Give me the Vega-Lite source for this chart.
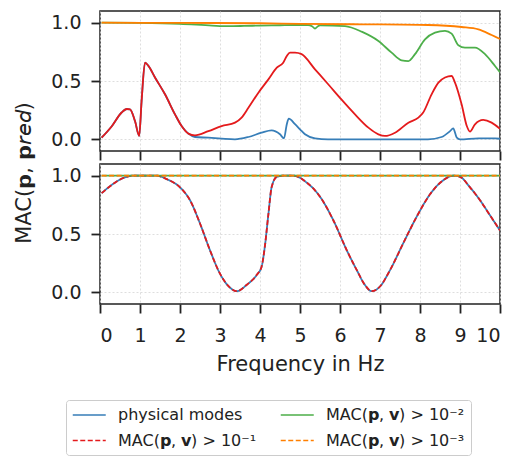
{
"$schema": "https://vega.github.io/schema/vega-lite/v6.json",
"padding": {"left": 14, "top": 10, "right": 5, "bottom": 5},
"background": "white",
"config": {
  "font": "DejaVu Sans",
  "view": {"stroke": "#222222", "strokeWidth": 1.5},
  "concat": {"spacing": 1},
  "axis": {"domain": false, "tickColor": "#222222", "tickWidth": 1.8, "tickSize": 9, "gridColor": "#d5d5d5", "gridDash": [2, 2], "gridWidth": 0.8, "labelColor": "#222222", "labelFontSize": 19, "titleFontSize": 21, "titleColor": "#222222", "titleFontWeight": "normal"},
  "legend": {"labelFontSize": 16, "labelColor": "#222222", "symbolStrokeWidth": 1.5, "symbolType": "M-1,0H3", "symbolSize": 272.25, "labelOffset": 28, "rowPadding": 8.5, "columnPadding": 20, "padding": 6, "strokeColor": "#cccccc", "cornerRadius": 3}
},
"title": {"text": "MAC(𝗽, 𝗽𝘳𝘦𝘥)", "orient": "left", "anchor": "middle", "frame": "group", "dx": -162, "fontSize": 21, "fontWeight": "normal", "color": "#222222", "offset": 15},
"data": {"values": [
{"p":"A","s":"physical modes","f":0.04,"v":0.014},
{"p":"A","s":"physical modes","f":0.29,"v":0.11},
{"p":"A","s":"physical modes","f":0.54,"v":0.23},
{"p":"A","s":"physical modes","f":0.67,"v":0.26},
{"p":"A","s":"physical modes","f":0.75,"v":0.257},
{"p":"A","s":"physical modes","f":0.875,"v":0.157},
{"p":"A","s":"physical modes","f":0.98,"v":0.03},
{"p":"A","s":"physical modes","f":1.04,"v":0.33},
{"p":"A","s":"physical modes","f":1.125,"v":0.657},
{"p":"A","s":"physical modes","f":1.21,"v":0.63},
{"p":"A","s":"physical modes","f":1.375,"v":0.53},
{"p":"A","s":"physical modes","f":1.625,"v":0.386},
{"p":"A","s":"physical modes","f":1.875,"v":0.214},
{"p":"A","s":"physical modes","f":2.04,"v":0.114},
{"p":"A","s":"physical modes","f":2.21,"v":0.049},
{"p":"A","s":"physical modes","f":2.375,"v":0.02},
{"p":"A","s":"physical modes","f":2.71,"v":0.014},
{"p":"A","s":"physical modes","f":3.04,"v":0.006},
{"p":"A","s":"physical modes","f":3.375,"v":0.0},
{"p":"A","s":"physical modes","f":3.71,"v":0.02},
{"p":"A","s":"physical modes","f":4.04,"v":0.057},
{"p":"A","s":"physical modes","f":4.29,"v":0.077},
{"p":"A","s":"physical modes","f":4.5,"v":0.043},
{"p":"A","s":"physical modes","f":4.6,"v":0.009},
{"p":"A","s":"physical modes","f":4.67,"v":0.13},
{"p":"A","s":"physical modes","f":4.72,"v":0.177},
{"p":"A","s":"physical modes","f":4.875,"v":0.13},
{"p":"A","s":"physical modes","f":5.0,"v":0.086},
{"p":"A","s":"physical modes","f":5.125,"v":0.043},
{"p":"A","s":"physical modes","f":5.375,"v":0.009},
{"p":"A","s":"physical modes","f":5.7,"v":0.0},
{"p":"A","s":"physical modes","f":6.5,"v":0.0},
{"p":"A","s":"physical modes","f":7.5,"v":0.0},
{"p":"A","s":"physical modes","f":8.2,"v":0.0},
{"p":"A","s":"physical modes","f":8.54,"v":0.02},
{"p":"A","s":"physical modes","f":8.75,"v":0.07},
{"p":"A","s":"physical modes","f":8.83,"v":0.094},
{"p":"A","s":"physical modes","f":8.92,"v":0.014},
{"p":"A","s":"physical modes","f":9.0,"v":0.0},
{"p":"A","s":"physical modes","f":9.46,"v":0.009},
{"p":"A","s":"physical modes","f":9.875,"v":0.009},
{"p":"A","s":"physical modes","f":10.0,"v":0.005},
{"p":"A","s":"MAC(𝗽, 𝘃) > 10⁻¹","f":0.04,"v":0.014},
{"p":"A","s":"MAC(𝗽, 𝘃) > 10⁻¹","f":0.29,"v":0.11},
{"p":"A","s":"MAC(𝗽, 𝘃) > 10⁻¹","f":0.54,"v":0.23},
{"p":"A","s":"MAC(𝗽, 𝘃) > 10⁻¹","f":0.67,"v":0.26},
{"p":"A","s":"MAC(𝗽, 𝘃) > 10⁻¹","f":0.75,"v":0.257},
{"p":"A","s":"MAC(𝗽, 𝘃) > 10⁻¹","f":0.875,"v":0.157},
{"p":"A","s":"MAC(𝗽, 𝘃) > 10⁻¹","f":0.98,"v":0.03},
{"p":"A","s":"MAC(𝗽, 𝘃) > 10⁻¹","f":1.04,"v":0.33},
{"p":"A","s":"MAC(𝗽, 𝘃) > 10⁻¹","f":1.125,"v":0.657},
{"p":"A","s":"MAC(𝗽, 𝘃) > 10⁻¹","f":1.21,"v":0.63},
{"p":"A","s":"MAC(𝗽, 𝘃) > 10⁻¹","f":1.375,"v":0.53},
{"p":"A","s":"MAC(𝗽, 𝘃) > 10⁻¹","f":1.625,"v":0.386},
{"p":"A","s":"MAC(𝗽, 𝘃) > 10⁻¹","f":1.875,"v":0.214},
{"p":"A","s":"MAC(𝗽, 𝘃) > 10⁻¹","f":2.04,"v":0.114},
{"p":"A","s":"MAC(𝗽, 𝘃) > 10⁻¹","f":2.21,"v":0.049},
{"p":"A","s":"MAC(𝗽, 𝘃) > 10⁻¹","f":2.375,"v":0.034},
{"p":"A","s":"MAC(𝗽, 𝘃) > 10⁻¹","f":2.71,"v":0.07},
{"p":"A","s":"MAC(𝗽, 𝘃) > 10⁻¹","f":3.04,"v":0.114},
{"p":"A","s":"MAC(𝗽, 𝘃) > 10⁻¹","f":3.375,"v":0.143},
{"p":"A","s":"MAC(𝗽, 𝘃) > 10⁻¹","f":3.54,"v":0.186},
{"p":"A","s":"MAC(𝗽, 𝘃) > 10⁻¹","f":3.71,"v":0.27},
{"p":"A","s":"MAC(𝗽, 𝘃) > 10⁻¹","f":3.96,"v":0.4},
{"p":"A","s":"MAC(𝗽, 𝘃) > 10⁻¹","f":4.21,"v":0.514},
{"p":"A","s":"MAC(𝗽, 𝘃) > 10⁻¹","f":4.42,"v":0.614},
{"p":"A","s":"MAC(𝗽, 𝘃) > 10⁻¹","f":4.58,"v":0.657},
{"p":"A","s":"MAC(𝗽, 𝘃) > 10⁻¹","f":4.67,"v":0.714},
{"p":"A","s":"MAC(𝗽, 𝘃) > 10⁻¹","f":4.75,"v":0.743},
{"p":"A","s":"MAC(𝗽, 𝘃) > 10⁻¹","f":4.875,"v":0.743},
{"p":"A","s":"MAC(𝗽, 𝘃) > 10⁻¹","f":5.04,"v":0.73},
{"p":"A","s":"MAC(𝗽, 𝘃) > 10⁻¹","f":5.375,"v":0.6},
{"p":"A","s":"MAC(𝗽, 𝘃) > 10⁻¹","f":5.71,"v":0.47},
{"p":"A","s":"MAC(𝗽, 𝘃) > 10⁻¹","f":6.04,"v":0.34},
{"p":"A","s":"MAC(𝗽, 𝘃) > 10⁻¹","f":6.375,"v":0.214},
{"p":"A","s":"MAC(𝗽, 𝘃) > 10⁻¹","f":6.71,"v":0.1},
{"p":"A","s":"MAC(𝗽, 𝘃) > 10⁻¹","f":6.96,"v":0.043},
{"p":"A","s":"MAC(𝗽, 𝘃) > 10⁻¹","f":7.125,"v":0.029},
{"p":"A","s":"MAC(𝗽, 𝘃) > 10⁻¹","f":7.375,"v":0.057},
{"p":"A","s":"MAC(𝗽, 𝘃) > 10⁻¹","f":7.71,"v":0.143},
{"p":"A","s":"MAC(𝗽, 𝘃) > 10⁻¹","f":7.96,"v":0.186},
{"p":"A","s":"MAC(𝗽, 𝘃) > 10⁻¹","f":8.08,"v":0.23},
{"p":"A","s":"MAC(𝗽, 𝘃) > 10⁻¹","f":8.29,"v":0.386},
{"p":"A","s":"MAC(𝗽, 𝘃) > 10⁻¹","f":8.46,"v":0.486},
{"p":"A","s":"MAC(𝗽, 𝘃) > 10⁻¹","f":8.625,"v":0.53},
{"p":"A","s":"MAC(𝗽, 𝘃) > 10⁻¹","f":8.79,"v":0.543},
{"p":"A","s":"MAC(𝗽, 𝘃) > 10⁻¹","f":8.875,"v":0.486},
{"p":"A","s":"MAC(𝗽, 𝘃) > 10⁻¹","f":9.04,"v":0.3},
{"p":"A","s":"MAC(𝗽, 𝘃) > 10⁻¹","f":9.17,"v":0.114},
{"p":"A","s":"MAC(𝗽, 𝘃) > 10⁻¹","f":9.25,"v":0.066},
{"p":"A","s":"MAC(𝗽, 𝘃) > 10⁻¹","f":9.375,"v":0.129},
{"p":"A","s":"MAC(𝗽, 𝘃) > 10⁻¹","f":9.58,"v":0.166},
{"p":"A","s":"MAC(𝗽, 𝘃) > 10⁻¹","f":9.79,"v":0.143},
{"p":"A","s":"MAC(𝗽, 𝘃) > 10⁻¹","f":10.0,"v":0.09},
{"p":"A","s":"MAC(𝗽, 𝘃) > 10⁻²","f":0.04,"v":1.0},
{"p":"A","s":"MAC(𝗽, 𝘃) > 10⁻²","f":1.0,"v":0.998},
{"p":"A","s":"MAC(𝗽, 𝘃) > 10⁻²","f":2.0,"v":0.99},
{"p":"A","s":"MAC(𝗽, 𝘃) > 10⁻²","f":2.8,"v":0.975},
{"p":"A","s":"MAC(𝗽, 𝘃) > 10⁻²","f":3.2,"v":0.97},
{"p":"A","s":"MAC(𝗽, 𝘃) > 10⁻²","f":3.6,"v":0.972},
{"p":"A","s":"MAC(𝗽, 𝘃) > 10⁻²","f":4.0,"v":0.975},
{"p":"A","s":"MAC(𝗽, 𝘃) > 10⁻²","f":4.5,"v":0.978},
{"p":"A","s":"MAC(𝗽, 𝘃) > 10⁻²","f":4.875,"v":0.98},
{"p":"A","s":"MAC(𝗽, 𝘃) > 10⁻²","f":5.2,"v":0.98},
{"p":"A","s":"MAC(𝗽, 𝘃) > 10⁻²","f":5.3,"v":0.97},
{"p":"A","s":"MAC(𝗽, 𝘃) > 10⁻²","f":5.375,"v":0.95},
{"p":"A","s":"MAC(𝗽, 𝘃) > 10⁻²","f":5.45,"v":0.97},
{"p":"A","s":"MAC(𝗽, 𝘃) > 10⁻²","f":5.5,"v":0.977},
{"p":"A","s":"MAC(𝗽, 𝘃) > 10⁻²","f":6.125,"v":0.97},
{"p":"A","s":"MAC(𝗽, 𝘃) > 10⁻²","f":6.54,"v":0.923},
{"p":"A","s":"MAC(𝗽, 𝘃) > 10⁻²","f":6.96,"v":0.843},
{"p":"A","s":"MAC(𝗽, 𝘃) > 10⁻²","f":7.29,"v":0.743},
{"p":"A","s":"MAC(𝗽, 𝘃) > 10⁻²","f":7.54,"v":0.677},
{"p":"A","s":"MAC(𝗽, 𝘃) > 10⁻²","f":7.71,"v":0.671},
{"p":"A","s":"MAC(𝗽, 𝘃) > 10⁻²","f":7.875,"v":0.73},
{"p":"A","s":"MAC(𝗽, 𝘃) > 10⁻²","f":8.125,"v":0.857},
{"p":"A","s":"MAC(𝗽, 𝘃) > 10⁻²","f":8.375,"v":0.914},
{"p":"A","s":"MAC(𝗽, 𝘃) > 10⁻²","f":8.625,"v":0.93},
{"p":"A","s":"MAC(𝗽, 𝘃) > 10⁻²","f":8.79,"v":0.906},
{"p":"A","s":"MAC(𝗽, 𝘃) > 10⁻²","f":8.96,"v":0.806},
{"p":"A","s":"MAC(𝗽, 𝘃) > 10⁻²","f":9.125,"v":0.786},
{"p":"A","s":"MAC(𝗽, 𝘃) > 10⁻²","f":9.375,"v":0.786},
{"p":"A","s":"MAC(𝗽, 𝘃) > 10⁻²","f":9.625,"v":0.73},
{"p":"A","s":"MAC(𝗽, 𝘃) > 10⁻²","f":9.875,"v":0.629},
{"p":"A","s":"MAC(𝗽, 𝘃) > 10⁻²","f":10.0,"v":0.575},
{"p":"A","s":"MAC(𝗽, 𝘃) > 10⁻³","f":0.04,"v":1.0},
{"p":"A","s":"MAC(𝗽, 𝘃) > 10⁻³","f":2.0,"v":0.998},
{"p":"A","s":"MAC(𝗽, 𝘃) > 10⁻³","f":4.0,"v":0.995},
{"p":"A","s":"MAC(𝗽, 𝘃) > 10⁻³","f":5.0,"v":0.99},
{"p":"A","s":"MAC(𝗽, 𝘃) > 10⁻³","f":6.54,"v":0.986},
{"p":"A","s":"MAC(𝗽, 𝘃) > 10⁻³","f":8.2,"v":0.98},
{"p":"A","s":"MAC(𝗽, 𝘃) > 10⁻³","f":9.04,"v":0.963},
{"p":"A","s":"MAC(𝗽, 𝘃) > 10⁻³","f":9.46,"v":0.943},
{"p":"A","s":"MAC(𝗽, 𝘃) > 10⁻³","f":9.79,"v":0.894},
{"p":"A","s":"MAC(𝗽, 𝘃) > 10⁻³","f":10.0,"v":0.86},
{"p":"B","s":"physical modes","f":0.04,"v":0.85},
{"p":"B","s":"physical modes","f":0.33,"v":0.93},
{"p":"B","s":"physical modes","f":0.58,"v":0.98},
{"p":"B","s":"physical modes","f":0.83,"v":1.0},
{"p":"B","s":"physical modes","f":1.42,"v":1.0},
{"p":"B","s":"physical modes","f":1.67,"v":0.97},
{"p":"B","s":"physical modes","f":2.0,"v":0.9},
{"p":"B","s":"physical modes","f":2.25,"v":0.79},
{"p":"B","s":"physical modes","f":2.5,"v":0.59},
{"p":"B","s":"physical modes","f":2.75,"v":0.36},
{"p":"B","s":"physical modes","f":3.0,"v":0.16},
{"p":"B","s":"physical modes","f":3.25,"v":0.04},
{"p":"B","s":"physical modes","f":3.42,"v":0.01},
{"p":"B","s":"physical modes","f":3.67,"v":0.065},
{"p":"B","s":"physical modes","f":3.92,"v":0.15},
{"p":"B","s":"physical modes","f":4.04,"v":0.22},
{"p":"B","s":"physical modes","f":4.12,"v":0.39},
{"p":"B","s":"physical modes","f":4.21,"v":0.67},
{"p":"B","s":"physical modes","f":4.29,"v":0.9},
{"p":"B","s":"physical modes","f":4.42,"v":0.99},
{"p":"B","s":"physical modes","f":4.58,"v":1.0},
{"p":"B","s":"physical modes","f":4.83,"v":1.0},
{"p":"B","s":"physical modes","f":5.17,"v":0.94},
{"p":"B","s":"physical modes","f":5.5,"v":0.82},
{"p":"B","s":"physical modes","f":5.83,"v":0.62},
{"p":"B","s":"physical modes","f":6.17,"v":0.36},
{"p":"B","s":"physical modes","f":6.42,"v":0.19},
{"p":"B","s":"physical modes","f":6.62,"v":0.065},
{"p":"B","s":"physical modes","f":6.79,"v":0.01},
{"p":"B","s":"physical modes","f":7.0,"v":0.05},
{"p":"B","s":"physical modes","f":7.25,"v":0.19},
{"p":"B","s":"physical modes","f":7.58,"v":0.42},
{"p":"B","s":"physical modes","f":7.92,"v":0.65},
{"p":"B","s":"physical modes","f":8.25,"v":0.84},
{"p":"B","s":"physical modes","f":8.58,"v":0.96},
{"p":"B","s":"physical modes","f":8.83,"v":1.0},
{"p":"B","s":"physical modes","f":9.0,"v":0.99},
{"p":"B","s":"physical modes","f":9.25,"v":0.9},
{"p":"B","s":"physical modes","f":9.5,"v":0.79},
{"p":"B","s":"physical modes","f":9.75,"v":0.66},
{"p":"B","s":"physical modes","f":10.0,"v":0.53},
{"p":"B","s":"MAC(𝗽, 𝘃) > 10⁻¹","f":0.04,"v":0.85},
{"p":"B","s":"MAC(𝗽, 𝘃) > 10⁻¹","f":0.33,"v":0.93},
{"p":"B","s":"MAC(𝗽, 𝘃) > 10⁻¹","f":0.58,"v":0.98},
{"p":"B","s":"MAC(𝗽, 𝘃) > 10⁻¹","f":0.83,"v":1.0},
{"p":"B","s":"MAC(𝗽, 𝘃) > 10⁻¹","f":1.42,"v":1.0},
{"p":"B","s":"MAC(𝗽, 𝘃) > 10⁻¹","f":1.67,"v":0.97},
{"p":"B","s":"MAC(𝗽, 𝘃) > 10⁻¹","f":2.0,"v":0.9},
{"p":"B","s":"MAC(𝗽, 𝘃) > 10⁻¹","f":2.25,"v":0.79},
{"p":"B","s":"MAC(𝗽, 𝘃) > 10⁻¹","f":2.5,"v":0.59},
{"p":"B","s":"MAC(𝗽, 𝘃) > 10⁻¹","f":2.75,"v":0.36},
{"p":"B","s":"MAC(𝗽, 𝘃) > 10⁻¹","f":3.0,"v":0.16},
{"p":"B","s":"MAC(𝗽, 𝘃) > 10⁻¹","f":3.25,"v":0.04},
{"p":"B","s":"MAC(𝗽, 𝘃) > 10⁻¹","f":3.42,"v":0.01},
{"p":"B","s":"MAC(𝗽, 𝘃) > 10⁻¹","f":3.67,"v":0.065},
{"p":"B","s":"MAC(𝗽, 𝘃) > 10⁻¹","f":3.92,"v":0.15},
{"p":"B","s":"MAC(𝗽, 𝘃) > 10⁻¹","f":4.04,"v":0.22},
{"p":"B","s":"MAC(𝗽, 𝘃) > 10⁻¹","f":4.12,"v":0.39},
{"p":"B","s":"MAC(𝗽, 𝘃) > 10⁻¹","f":4.21,"v":0.67},
{"p":"B","s":"MAC(𝗽, 𝘃) > 10⁻¹","f":4.29,"v":0.9},
{"p":"B","s":"MAC(𝗽, 𝘃) > 10⁻¹","f":4.42,"v":0.99},
{"p":"B","s":"MAC(𝗽, 𝘃) > 10⁻¹","f":4.58,"v":1.0},
{"p":"B","s":"MAC(𝗽, 𝘃) > 10⁻¹","f":4.83,"v":1.0},
{"p":"B","s":"MAC(𝗽, 𝘃) > 10⁻¹","f":5.17,"v":0.94},
{"p":"B","s":"MAC(𝗽, 𝘃) > 10⁻¹","f":5.5,"v":0.82},
{"p":"B","s":"MAC(𝗽, 𝘃) > 10⁻¹","f":5.83,"v":0.62},
{"p":"B","s":"MAC(𝗽, 𝘃) > 10⁻¹","f":6.17,"v":0.36},
{"p":"B","s":"MAC(𝗽, 𝘃) > 10⁻¹","f":6.42,"v":0.19},
{"p":"B","s":"MAC(𝗽, 𝘃) > 10⁻¹","f":6.62,"v":0.065},
{"p":"B","s":"MAC(𝗽, 𝘃) > 10⁻¹","f":6.79,"v":0.01},
{"p":"B","s":"MAC(𝗽, 𝘃) > 10⁻¹","f":7.0,"v":0.05},
{"p":"B","s":"MAC(𝗽, 𝘃) > 10⁻¹","f":7.25,"v":0.19},
{"p":"B","s":"MAC(𝗽, 𝘃) > 10⁻¹","f":7.58,"v":0.42},
{"p":"B","s":"MAC(𝗽, 𝘃) > 10⁻¹","f":7.92,"v":0.65},
{"p":"B","s":"MAC(𝗽, 𝘃) > 10⁻¹","f":8.25,"v":0.84},
{"p":"B","s":"MAC(𝗽, 𝘃) > 10⁻¹","f":8.58,"v":0.96},
{"p":"B","s":"MAC(𝗽, 𝘃) > 10⁻¹","f":8.83,"v":1.0},
{"p":"B","s":"MAC(𝗽, 𝘃) > 10⁻¹","f":9.0,"v":0.99},
{"p":"B","s":"MAC(𝗽, 𝘃) > 10⁻¹","f":9.25,"v":0.9},
{"p":"B","s":"MAC(𝗽, 𝘃) > 10⁻¹","f":9.5,"v":0.79},
{"p":"B","s":"MAC(𝗽, 𝘃) > 10⁻¹","f":9.75,"v":0.66},
{"p":"B","s":"MAC(𝗽, 𝘃) > 10⁻¹","f":10.0,"v":0.53},
{"p":"B","s":"MAC(𝗽, 𝘃) > 10⁻²","f":0.04,"v":1.0},
{"p":"B","s":"MAC(𝗽, 𝘃) > 10⁻²","f":5.0,"v":1.0},
{"p":"B","s":"MAC(𝗽, 𝘃) > 10⁻²","f":10.0,"v":1.0},
{"p":"B","s":"MAC(𝗽, 𝘃) > 10⁻³","f":0.04,"v":1.0},
{"p":"B","s":"MAC(𝗽, 𝘃) > 10⁻³","f":5.0,"v":1.0},
{"p":"B","s":"MAC(𝗽, 𝘃) > 10⁻³","f":10.0,"v":1.0}
]},
"vconcat": [
  {
    "width": 400, "height": 140,
    "transform": [{"filter": "datum.p == 'A'"}],
    "mark": {"type": "line", "strokeWidth": 1.8, "interpolate": "monotone", "clip": true},
    "encoding": {
      "x": {"field": "f", "type": "quantitative", "scale": {"domain": [0, 10], "nice": false}, "axis": {"values": [0,1,2,3,4,5,6,7,8,9,10], "labels": false, "title": null}},
      "y": {"field": "v", "type": "quantitative", "scale": {"domain": [-0.1, 1.1], "nice": false, "zero": false}, "axis": {"values": [0, 0.5, 1], "format": ".1f", "title": null, "labelPadding": 10}},
      "color": {"field": "s", "type": "nominal", "sort": null, "scale": {"domain": ["physical modes", "MAC(𝗽, 𝘃) > 10⁻²", "MAC(𝗽, 𝘃) > 10⁻¹", "MAC(𝗽, 𝘃) > 10⁻³"], "range": ["#377eb8", "#4daf4a", "#e41a1c", "#ff7f00"]}, "legend": {"title": null, "orient": "none", "legendX": -34, "legendY": 389, "columns": 2, "values": ["physical modes", "MAC(𝗽, 𝘃) > 10⁻¹", "MAC(𝗽, 𝘃) > 10⁻²", "MAC(𝗽, 𝘃) > 10⁻³"]}}
    }
  },
  {
    "width": 400, "height": 140,
    "transform": [{"filter": "datum.p == 'B'"}],
    "mark": {"type": "line", "strokeWidth": 1.8, "interpolate": "monotone", "clip": true},
    "encoding": {
      "x": {"field": "f", "type": "quantitative", "scale": {"domain": [0, 10], "nice": false}, "axis": {"values": [0,1,2,3,4,5,6,7,8,9,10], "title": "Frequency in Hz", "labelPadding": 13, "titlePadding": 8}},
      "y": {"field": "v", "type": "quantitative", "scale": {"domain": [-0.1, 1.1], "nice": false, "zero": false}, "axis": {"values": [0, 0.5, 1], "format": ".1f", "title": null, "labelPadding": 10}},
      "color": {"field": "s", "type": "nominal", "sort": null, "scale": {"domain": ["physical modes", "MAC(𝗽, 𝘃) > 10⁻²", "MAC(𝗽, 𝘃) > 10⁻¹", "MAC(𝗽, 𝘃) > 10⁻³"], "range": ["#377eb8", "#4daf4a", "#e41a1c", "#ff7f00"]}, "legend": {"title": null, "orient": "none", "legendX": -34, "legendY": 389, "columns": 2, "values": ["physical modes", "MAC(𝗽, 𝘃) > 10⁻¹", "MAC(𝗽, 𝘃) > 10⁻²", "MAC(𝗽, 𝘃) > 10⁻³"]}},
      "strokeDash": {"field": "s", "type": "nominal", "sort": null, "scale": {"domain": ["physical modes", "MAC(𝗽, 𝘃) > 10⁻²", "MAC(𝗽, 𝘃) > 10⁻¹", "MAC(𝗽, 𝘃) > 10⁻³"], "range": [[1, 0], [1, 0], [5, 2.5], [5, 2.5]]}, "legend": {"title": null, "orient": "none", "legendX": -34, "legendY": 389, "columns": 2, "values": ["physical modes", "MAC(𝗽, 𝘃) > 10⁻¹", "MAC(𝗽, 𝘃) > 10⁻²", "MAC(𝗽, 𝘃) > 10⁻³"]}}
    }
  }
]
}
